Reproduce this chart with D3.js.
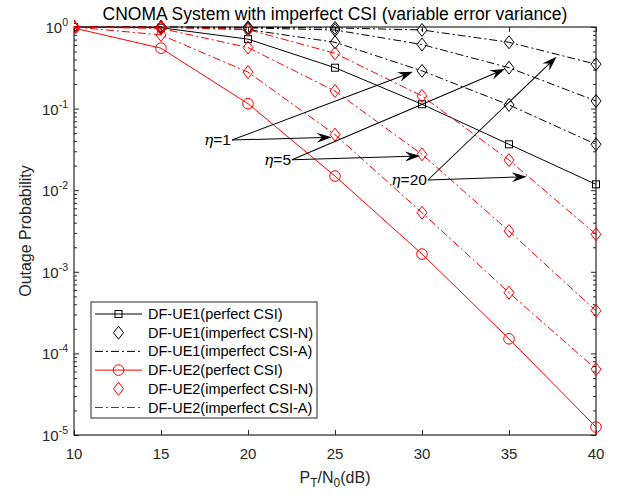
<!DOCTYPE html>
<html>
<head>
<meta charset="utf-8">
<script src="https://cdn.jsdelivr.net/npm/d3@7"></script>
<style>
  html, body { margin: 0; padding: 0; background: #fff; }
  svg { display: block; font-family: Arial, "Liberation Sans", Helvetica, sans-serif; }
</style>
</head>
<body>
<svg id="chart" width="621" height="495"></svg>
<script>
// ---------------- data ----------------
const snrDb = [10, 15, 20, 25, 30, 35, 40];
const xTicks = [10, 15, 20, 25, 30, 35, 40];
const yTickExps = [0, -1, -2, -3, -4, -5];

const ue1Perfect = [1.0, 0.98, 0.71, 0.317, 0.113, 0.0365, 0.0118];
const ue1Eta1    = [1.0, 0.995, 0.93, 0.65, 0.29, 0.111, 0.0365];
const ue1Eta5    = [1.0, 0.998, 0.975, 0.92, 0.61, 0.317, 0.124];
const ue1Eta20   = [1.0, 1.0, 0.99, 0.975, 0.92, 0.65, 0.35];

const ue2Perfect = [0.97, 0.55, 0.115, 0.0149, 0.00165, 0.000151, 0.0000125];
const ue2Eta1    = [1.0, 0.8, 0.28, 0.048, 0.0053, 0.000555, 0.000064];
const ue2Eta5    = [1.0, 0.96, 0.56, 0.164, 0.0275, 0.00316, 0.000333];
const ue2Eta20   = [1.0, 0.995, 0.93, 0.476, 0.143, 0.0234, 0.00288];

const legendLabels = [
  "DF-UE1(perfect CSI)",
  "DF-UE1(imperfect CSI-N)",
  "DF-UE1(imperfect CSI-A)",
  "DF-UE2(perfect CSI)",
  "DF-UE2(imperfect CSI-N)",
  "DF-UE2(imperfect CSI-A)"
];

// annotations in data coordinates: label anchor (x, y) and arrow tips
const etaLabels = ["1", "5", "20"];
const etaAnchors = [[19.08, 0.0412], [22.53, 0.02365], [30.34, 0.01334]];
const etaTips = [
  [[29.48, 0.283], [24.81, 0.0445]],
  [[34.77, 0.306], [29.89, 0.0262]],
  [[37.74, 0.433], [36.02, 0.01463]]
];

const titleText = "CNOMA System with imperfect CSI (variable error variance)";

// ---------------- layout ----------------
const W = 621, H = 495;
const m = { left: 74, right: 596, top: 27, bottom: 435 };
const RED = "#ff0000", BLACK = "#000000", AXIS = "#262626";
const DASHDOT = "8,3,2,3";

const svg = d3.select("#chart");
const x = d3.scaleLinear().domain([10, 40]).range([m.left, m.right]);
const y = d3.scaleLog().domain([1e-5, 1]).range([m.bottom, m.top]);

// clip
svg.append("defs").append("clipPath").attr("id", "clip")
  .append("rect").attr("x", m.left).attr("y", m.top - 8)
  .attr("width", m.right - m.left + 8).attr("height", m.bottom - m.top + 16);

// ---------------- axes ----------------
const axG = svg.append("g");
const majorTickLen = 5, minorTickLen = 3;

// y minor tick values
const yMinor = [];
for (let e = -5; e < 0; e++) for (let k = 2; k <= 9; k++) yMinor.push(k * Math.pow(10, e));

const yLeft = d3.axisLeft(y).tickValues(yTickExps.map(e => Math.pow(10, e))).tickSize(-majorTickLen).tickFormat("");
const yLeftMinor = d3.axisLeft(y).tickValues(yMinor).tickSize(-minorTickLen).tickFormat("");
const yRight = d3.axisRight(y).tickValues(yTickExps.map(e => Math.pow(10, e))).tickSize(-majorTickLen).tickFormat("");
const yRightMinor = d3.axisRight(y).tickValues(yMinor).tickSize(-minorTickLen).tickFormat("");
const xBottom = d3.axisBottom(x).tickValues(xTicks).tickSize(-majorTickLen).tickFormat("");
const xTop = d3.axisTop(x).tickValues(xTicks).tickSize(-majorTickLen).tickFormat("");

function styleAxis(g) {
  g.selectAll("path").attr("stroke", "none");
  g.selectAll("line").attr("stroke", AXIS).attr("stroke-width", 1);
}
axG.append("g").attr("transform", `translate(${m.left},0)`).call(yLeft).call(styleAxis);
axG.append("g").attr("transform", `translate(${m.left},0)`).call(yLeftMinor).call(styleAxis);
axG.append("g").attr("transform", `translate(${m.right},0)`).call(yRight).call(styleAxis);
axG.append("g").attr("transform", `translate(${m.right},0)`).call(yRightMinor).call(styleAxis);
axG.append("g").attr("transform", `translate(0,${m.bottom})`).call(xBottom).call(styleAxis);
axG.append("g").attr("transform", `translate(0,${m.top})`).call(xTop).call(styleAxis);

// box
axG.append("rect").attr("x", m.left).attr("y", m.top)
  .attr("width", m.right - m.left).attr("height", m.bottom - m.top)
  .attr("fill", "none").attr("stroke", AXIS).attr("stroke-width", 1.2);

// x tick labels
svg.append("g").selectAll("text").data(xTicks).join("text")
  .attr("x", d => x(d)).attr("y", m.bottom + 24)
  .attr("text-anchor", "middle").attr("font-size", 15).attr("fill", AXIS)
  .text(d => d);

// y tick labels 10^e
const yl = svg.append("g").selectAll("text").data(yTickExps).join("text")
  .attr("x", m.left - 6).attr("y", d => y(Math.pow(10, d)) + 6)
  .attr("text-anchor", "end").attr("font-size", 15).attr("fill", AXIS);
yl.append("tspan").text("10");
yl.append("tspan").attr("dy", -7).attr("font-size", 10.5).text(d => d);

// axis labels
const xl = svg.append("text").attr("x", (m.left + m.right) / 2).attr("y", m.bottom + 48)
  .attr("text-anchor", "middle").attr("font-size", 16).attr("fill", AXIS);
xl.append("tspan").text("P");
xl.append("tspan").attr("dy", 4).attr("font-size", 12).text("T");
xl.append("tspan").attr("dy", -4).text("/N");
xl.append("tspan").attr("dy", 4).attr("font-size", 12).text("0");
xl.append("tspan").attr("dy", -4).text("(dB)");

svg.append("text")
  .attr("transform", `translate(31,${(m.top + m.bottom) / 2}) rotate(-90)`)
  .attr("text-anchor", "middle").attr("font-size", 16).attr("fill", AXIS)
  .text("Outage Probability");

// title
svg.append("text").attr("x", (m.left + m.right) / 2).attr("y", 20)
  .attr("text-anchor", "middle").attr("font-size", 17.5).attr("fill", "#000")
  .text(titleText);

// ---------------- series ----------------
const plotG = svg.append("g").attr("clip-path", "url(#clip)");
const line = d3.line().x((d, i) => x(snrDb[i])).y(d => y(d));

function drawLine(vals, color, dash) {
  plotG.append("path").datum(vals).attr("d", line)
    .attr("fill", "none").attr("stroke", color).attr("stroke-width", 1)
    .attr("stroke-dasharray", dash || null);
}
const diamondPath = (cx, cy) => `M${cx},${cy - 6.5}L${cx + 5},${cy}L${cx},${cy + 6.5}L${cx - 5},${cy}Z`;
function drawMarkers(vals, color, type) {
  const g = plotG.append("g");
  vals.forEach((v, i) => {
    const cx = x(snrDb[i]), cy = y(v);
    if (type === "square") {
      g.append("rect").attr("x", cx - 3.5).attr("y", cy - 3.5).attr("width", 7).attr("height", 7)
        .attr("fill", "none").attr("stroke", color).attr("stroke-width", 1);
    } else if (type === "circle") {
      g.append("circle").attr("cx", cx).attr("cy", cy).attr("r", 5.3)
        .attr("fill", "none").attr("stroke", color).attr("stroke-width", 1);
    } else {
      g.append("path").attr("d", diamondPath(cx, cy))
        .attr("fill", "none").attr("stroke", color).attr("stroke-width", 1);
    }
  });
}

drawLine(ue1Perfect, BLACK); drawMarkers(ue1Perfect, BLACK, "square");
[ue1Eta1, ue1Eta5, ue1Eta20].forEach(s => drawMarkers(s, BLACK, "diamond"));
[ue1Eta1, ue1Eta5, ue1Eta20].forEach(s => drawLine(s, BLACK, DASHDOT));
drawLine(ue2Perfect, RED); drawMarkers(ue2Perfect, RED, "circle");
[ue2Eta1, ue2Eta5, ue2Eta20].forEach(s => drawMarkers(s, RED, "diamond"));
[ue2Eta1, ue2Eta5, ue2Eta20].forEach(s => drawLine(s, RED, DASHDOT));

// ---------------- annotations ----------------
const annG = svg.append("g");
const headL = 15, headW = 10;
etaLabels.forEach((lab, k) => {
  const [ax, ay] = etaAnchors[k];
  const sx = x(ax), sy = y(ay);
  const t = annG.append("text").attr("x", sx - 1).attr("y", sy + 5)
    .attr("text-anchor", "end").attr("font-size", 15.5).attr("fill", "#000");
  t.append("tspan").attr("font-family", "'DejaVu Serif', 'Liberation Serif', serif")
    .attr("font-style", "italic").text("η");
  t.append("tspan").text("=" + lab);
  etaTips[k].forEach(([tx, ty]) => {
    const ex = x(tx), ey = y(ty);
    const ang = Math.atan2(ey - sy, ex - sx);
    const len = Math.hypot(ex - sx, ey - sy);
    const g = annG.append("g").attr("transform", `translate(${sx},${sy}) rotate(${ang * 180 / Math.PI})`);
    g.append("line").attr("x1", 0).attr("y1", 0).attr("x2", len - headL * 0.6).attr("y2", 0)
      .attr("stroke", "#000").attr("stroke-width", 1);
    g.append("path")
      .attr("d", `M${len},0L${len - headL},${-headW / 2}L${len - headL * 0.65},0L${len - headL},${headW / 2}Z`)
      .attr("fill", "#000");
  });
});

// ---------------- legend ----------------
const lg = svg.append("g");
const lx = 91, ly = 302, lw = 226, lh = 116, rowH = 18.7;
lg.append("rect").attr("x", lx).attr("y", ly).attr("width", lw).attr("height", lh)
  .attr("fill", "#fff").attr("stroke", AXIS).attr("stroke-width", 1);
const legendStyles = [
  { color: BLACK, dash: null, marker: "square", line: true },
  { color: BLACK, dash: null, marker: "diamond", line: false },
  { color: BLACK, dash: DASHDOT, marker: null, line: true },
  { color: RED, dash: null, marker: "circle", line: true },
  { color: RED, dash: null, marker: "diamond", line: false },
  { color: RED, dash: DASHDOT, marker: null, line: true }
];
legendLabels.forEach((lab, i) => {
  const cy = ly + 12 + i * rowH;
  const st = legendStyles[i];
  if (st.line) {
    lg.append("line").attr("x1", lx + 4).attr("x2", lx + 51).attr("y1", cy).attr("y2", cy)
      .attr("stroke", st.color).attr("stroke-width", 1).attr("stroke-dasharray", st.dash);
  }
  const cx = lx + 27.5;
  if (st.marker === "square") {
    lg.append("rect").attr("x", cx - 3.5).attr("y", cy - 3.5).attr("width", 7).attr("height", 7)
      .attr("fill", "none").attr("stroke", st.color);
  } else if (st.marker === "circle") {
    lg.append("circle").attr("cx", cx).attr("cy", cy).attr("r", 5.3)
      .attr("fill", "none").attr("stroke", st.color);
  } else if (st.marker === "diamond") {
    lg.append("path").attr("d", diamondPath(cx, cy)).attr("fill", "none").attr("stroke", st.color);
  }
  lg.append("text").attr("x", lx + 57).attr("y", cy + 5).attr("font-size", 14.5).attr("fill", "#000")
    .text(lab);
});
</script>
</body>
</html>
